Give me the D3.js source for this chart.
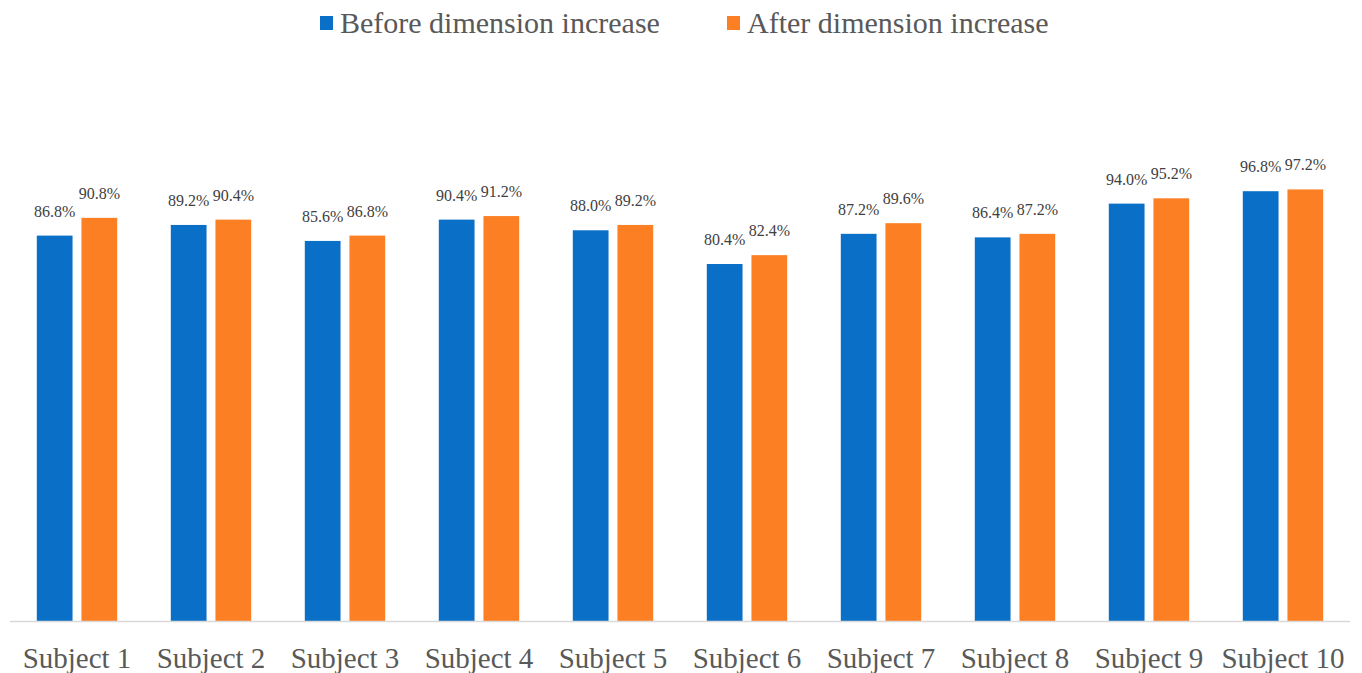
<!DOCTYPE html>
<html>
<head>
<meta charset="utf-8">
<script src="https://cdn.jsdelivr.net/npm/d3@7"></script>
<style>
  html, body { margin: 0; padding: 0; background: #ffffff; }
  svg { display: block; }
</style>
</head>
<body>
<svg id="chart" width="1362" height="673"></svg>
<script>
// Recognition accuracy per subject, before and after dimension increase (%)
const subjects = ["Subject 1", "Subject 2", "Subject 3", "Subject 4", "Subject 5",
                  "Subject 6", "Subject 7", "Subject 8", "Subject 9", "Subject 10"];
const seriesNames = ["Before dimension increase", "After dimension increase"];
const beforeValues = [86.8, 89.2, 85.6, 90.4, 88.0, 80.4, 87.2, 86.4, 94.0, 96.8];
const afterValues  = [90.8, 90.4, 86.8, 91.2, 89.2, 82.4, 89.6, 87.2, 95.2, 97.2];
const seriesColors = ["#0A6FC6", "#FC7F23"];

const svg = d3.select("#chart");
const font = "'Liberation Serif', 'Times New Roman', serif";

const left = 10, right = 1350, baseline = 621;

const x0 = d3.scaleBand()
  .domain(subjects)
  .range([left, right])
  .paddingInner(0.4)
  .paddingOuter(0.2);

const x1 = d3.scaleBand()
  .domain([0, 1])
  .range([0, x0.bandwidth()])
  .paddingInner(0.2);

const y = d3.scaleLinear()
  .domain([0, 100])
  .range([baseline, baseline - 444]);

const rows = subjects.map((s, i) => ({
  subject: s,
  vals: [beforeValues[i], afterValues[i]]
}));

// Bars
const groups = svg.append("g").selectAll("g")
  .data(rows)
  .join("g")
  .attr("transform", d => `translate(${x0(d.subject)},0)`);

groups.selectAll("rect")
  .data(d => d.vals.map((v, k) => ({ v, k })))
  .join("rect")
  .attr("x", d => x1(d.k))
  .attr("y", d => y(d.v))
  .attr("width", x1.bandwidth())
  .attr("height", d => y(0) - y(d.v))
  .attr("fill", d => seriesColors[d.k]);

// Value labels
groups.selectAll("text")
  .data(d => d.vals.map((v, k) => ({ v, k })))
  .join("text")
  .attr("x", d => x1(d.k) + x1.bandwidth() / 2)
  .attr("y", d => y(d.v) - 19)
  .attr("text-anchor", "middle")
  .attr("font-family", font)
  .attr("font-size", 16)
  .attr("fill", "#404040")
  .text(d => d.v.toFixed(1) + "%");

// Category axis
const xAxis = svg.append("g")
  .attr("transform", `translate(0,${baseline})`)
  .call(d3.axisBottom(x0).tickSize(0).tickPadding(0));
xAxis.select(".domain")
  .attr("d", `M${left},0.5H${right}`)
  .attr("stroke", "#d9d9d9")
  .attr("stroke-width", 1.5);
xAxis.selectAll(".tick text")
  .attr("font-family", font)
  .attr("font-size", 29)
  .attr("fill", "#595959")
  .attr("dy", null)
  .attr("y", 47);

// Legend
const legendItems = [
  { name: seriesNames[0], color: seriesColors[0], x: 320 },
  { name: seriesNames[1], color: seriesColors[1], x: 727 }
];
const legend = svg.append("g").selectAll("g")
  .data(legendItems)
  .join("g")
  .attr("transform", d => `translate(${d.x},0)`);
legend.append("rect")
  .attr("x", 0).attr("y", 16)
  .attr("width", 13).attr("height", 14)
  .attr("fill", d => d.color);
legend.append("text")
  .attr("x", 20).attr("y", 33)
  .attr("font-family", font)
  .attr("font-size", 30)
  .attr("fill", "#595959")
  .text(d => d.name);
</script>
</body>
</html>
